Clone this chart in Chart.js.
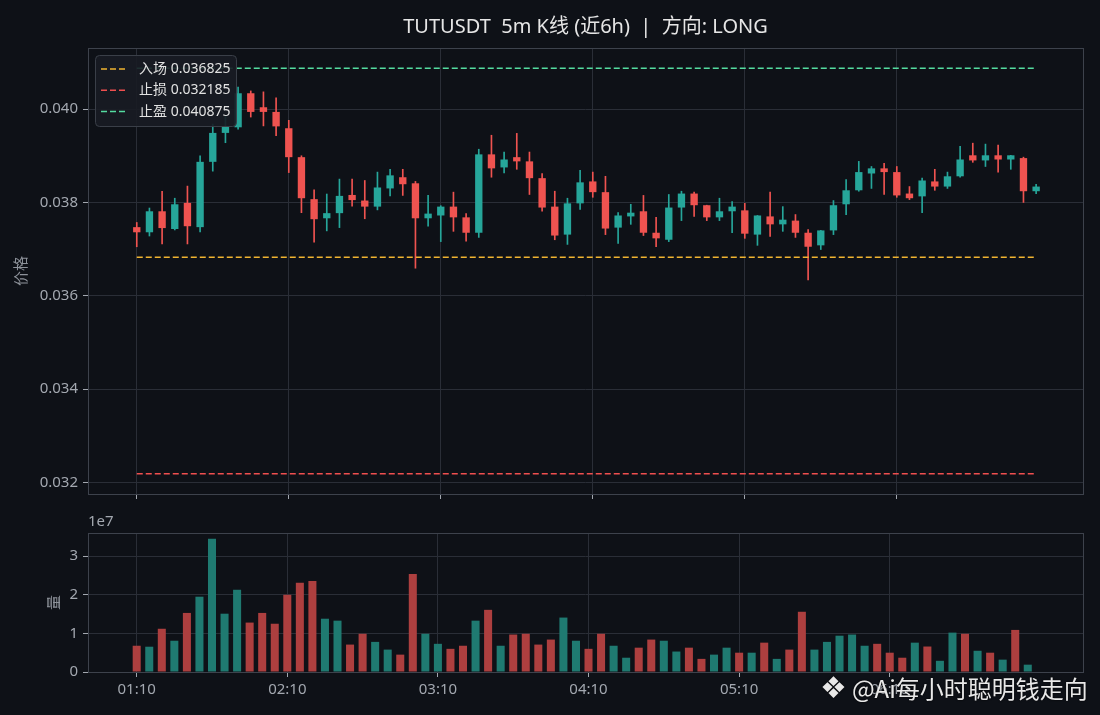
<!DOCTYPE html>
<html><head><meta charset="utf-8">
<script src="https://cdn.jsdelivr.net/npm/chart.js@4.4.1/dist/chart.umd.min.js"></script>
<style>
html,body{margin:0;padding:0;background:#0e1117;width:1100px;height:715px;overflow:hidden;}
#wrapTop{position:absolute;left:0;top:0;width:1100px;height:505px;}
#wrapVol{position:absolute;left:0;top:505px;width:1100px;height:210px;}
#wm{position:absolute;left:820px;top:670px;height:36px;color:#e8e8e8;font-family:'Noto Sans CJK SC','Noto Sans',sans-serif;font-size:24px;line-height:36px;white-space:nowrap;text-shadow:0 0 2px #000;}
#wm .logo{font-family:'DejaVu Sans',sans-serif;font-size:30px;margin-right:5px;vertical-align:top;}
</style></head>
<body>
<div id="wrapTop"><canvas id="cTop"></canvas></div>
<div id="wrapVol"><canvas id="cVol"></canvas></div>
<div id="wm"><span class="logo">❖</span>@Ai每小时聪明钱走向</div>
<script>
const TITLE = 'TUTUSDT  5m K线 (近6h)  |  方向: LONG';
const hourIdx = [0, 12, 24, 36, 48, 60];
const hourLabels = ['01:10', '02:10', '03:10', '04:10', '05:10', '06:10'];
const priceTicks = [0.032, 0.034, 0.036, 0.038, 0.040];
const volTicks = [0, 1e7, 2e7, 3e7];
const ENTRY = 0.036825, STOP = 0.032185, TP = 0.040875;

const open = [
0.03747,0.03736,0.03781,0.03743,0.03799,0.03747,0.03887,0.03949,0.03961,0.04034,
0.04004,0.03994,0.03959,0.03897,0.03807,0.03766,0.03777,0.03816,0.03804,0.03791,
0.03830,0.03854,0.03841,0.03766,0.03772,0.03791,0.03768,0.03735,0.03903,0.03875,
0.03897,0.03888,0.03852,0.03791,0.03731,0.03798,0.03845,0.03822,0.03746,0.03770,
0.03781,0.03735,0.03720,0.03789,0.03819,0.03794,0.03768,0.03781,0.03783,0.03731,
0.03770,0.03753,0.03761,0.03735,0.03708,0.03740,0.03796,0.03826,0.03862,0.03873,
0.03865,0.03819,0.03813,0.03845,0.03834,0.03856,0.03901,0.03890,0.03901,0.03892,
0.03895,0.03824];
const close = [
0.03736,0.03781,0.03745,0.03796,0.03749,0.03887,0.03949,0.03962,0.04034,0.03994,
0.03994,0.03963,0.03897,0.03809,0.03764,0.03777,0.03814,0.03805,0.03791,0.03832,
0.03858,0.03839,0.03766,0.03776,0.03791,0.03768,0.03735,0.03903,0.03873,0.03892,
0.03888,0.03852,0.03789,0.03729,0.03798,0.03843,0.03822,0.03744,0.03772,0.03778,
0.03735,0.03723,0.03789,0.03819,0.03794,0.03768,0.03781,0.03791,0.03733,0.03772,
0.03753,0.03763,0.03735,0.03705,0.03740,0.03794,0.03826,0.03865,0.03873,0.03865,
0.03815,0.03809,0.03847,0.03834,0.03856,0.03892,0.03890,0.03901,0.03892,0.03901,
0.03824,0.03834];
const high = [
0.03757,0.03788,0.03824,0.03809,0.03835,0.03900,0.03968,0.03984,0.04047,0.04039,
0.04037,0.04024,0.03976,0.03900,0.03827,0.03818,0.03850,0.03850,0.03847,0.03865,
0.03871,0.03871,0.03845,0.03815,0.03793,0.03822,0.03776,0.03914,0.03944,0.03908,
0.03948,0.03908,0.03862,0.03824,0.03809,0.03869,0.03865,0.03856,0.03778,0.03796,
0.03815,0.03768,0.03817,0.03824,0.03822,0.03794,0.03809,0.03802,0.03798,0.03772,
0.03822,0.03791,0.03774,0.03742,0.03740,0.03804,0.03849,0.03888,0.03877,0.03884,
0.03877,0.03834,0.03852,0.03871,0.03865,0.03920,0.03927,0.03925,0.03923,0.03901,
0.03897,0.03839];
const low = [
0.03705,0.03728,0.03711,0.03741,0.03711,0.03737,0.03867,0.03928,0.03957,0.03983,
0.03964,0.03943,0.03864,0.03778,0.03715,0.03739,0.03746,0.03792,0.03765,0.03784,
0.03814,0.03815,0.03659,0.03749,0.03716,0.03738,0.03717,0.03725,0.03854,0.03863,
0.03871,0.03817,0.03781,0.03720,0.03710,0.03785,0.03811,0.03731,0.03712,0.03753,
0.03729,0.03705,0.03716,0.03761,0.03770,0.03761,0.03761,0.03735,0.03723,0.03708,
0.03727,0.03738,0.03725,0.03634,0.03699,0.03731,0.03774,0.03824,0.03830,0.03817,
0.03811,0.03806,0.03778,0.03826,0.03830,0.03854,0.03886,0.03877,0.03865,0.03871,
0.03800,0.03819];
const volume = [
6800000,6550000,11200000,8100000,15300000,19500000,34500000,15100000,21300000,12800000,
15300000,12500000,20000000,23100000,23600000,13800000,13300000,7100000,9900000,7800000,
5800000,4500000,25400000,9900000,7300000,6000000,6800000,13300000,16100000,6800000,
9700000,9900000,7100000,8400000,14100000,8100000,6000000,9900000,6800000,3700000,
6300000,8400000,8100000,5300000,6300000,3400000,4500000,6300000,5000000,5000000,
7600000,3400000,5800000,15600000,5800000,7800000,9400000,9700000,6800000,7300000,
5000000,3700000,7600000,6600000,2900000,10200000,9900000,5500000,5000000,3200000,
10900000,1900000];

const UP = '#26a69a', DOWN = '#ef5350';
const UP_V = '#1f7a71', DOWN_V = '#ad3f3f';
const C_ENTRY = '#f0b431', C_STOP = '#ef4f4f', C_TP = '#54dca0';
const GRID = '#2a2e37', SPINE = '#3d424c', TICK = '#a3a8b0', LBL = '#8d929a', TXT = '#e6e6e6';
const FONT = "'Noto Sans','Noto Sans CJK SC',sans-serif";

Chart.defaults.font.family = FONT;
Chart.defaults.color = TICK;
Chart.defaults.animation = false;

const idx = open.map((_, i) => i);
const N = open.length;
const isUp = idx.map(i => close[i] >= open[i]);
const candleCol = isUp.map(u => u ? UP : DOWN);
const volCol = isUp.map(u => u ? UP_V : DOWN_V);

const framePlugin = {
  id: 'frame',
  afterDraw(chart) {
    const {ctx, chartArea: a} = chart;
    ctx.save();
    ctx.strokeStyle = SPINE; ctx.lineWidth = 1;
    ctx.strokeRect(Math.round(a.left) + 0.5, Math.round(a.top) + 0.5, Math.round(a.right - a.left), Math.round(a.bottom - a.top));
    ctx.restore();
  }
};

const titlePlugin = {
  id: 'ttl',
  afterDraw(chart) {
    const {ctx, chartArea: a} = chart;
    ctx.save();
    ctx.fillStyle = TXT; ctx.font = '20px ' + FONT;
    ctx.textAlign = 'center'; ctx.textBaseline = 'middle';
    ctx.fillText(TITLE, (a.left + a.right) / 2, 27);
    ctx.restore();
  }
};

const legendPlugin = {
  id: 'lgd',
  afterDraw(chart) {
    const {ctx, chartArea: a} = chart;
    const items = chart.data.datasets.filter(d => d.type === 'line');
    const x0 = a.left + 7, y0 = a.top + 7, w = 141, h = 71;
    ctx.save();
    ctx.beginPath();
    ctx.roundRect(x0 + 0.5, y0 + 0.5, w, h, 4);
    ctx.fillStyle = 'rgba(24,28,36,0.9)'; ctx.fill();
    ctx.strokeStyle = '#3a3f48'; ctx.lineWidth = 1; ctx.stroke();
    ctx.font = '14px ' + FONT; ctx.textBaseline = 'middle'; ctx.textAlign = 'left';
    items.forEach((d, k) => {
      const y = y0 + 14 + k * 21.3;
      ctx.strokeStyle = d.borderColor; ctx.lineWidth = 1.5; ctx.setLineDash([6, 3]);
      ctx.beginPath(); ctx.moveTo(x0 + 6, y); ctx.lineTo(x0 + 33, y); ctx.stroke();
      ctx.setLineDash([]);
      ctx.fillStyle = '#e2e2e2';
      ctx.fillText(d.label, x0 + 44, y);
    });
    ctx.restore();
  }
};

const volOffsetPlugin = {
  id: 'voff',
  afterDraw(chart) {
    const {ctx, chartArea: a} = chart;
    ctx.save();
    ctx.fillStyle = TICK; ctx.font = '15px ' + FONT;
    ctx.textAlign = 'left'; ctx.textBaseline = 'middle';
    ctx.fillText('1e7', a.left, a.top - 11);
    ctx.restore();
  }
};

function hline(label, val, color) {
  return {type: 'line', label: label, data: [{x: 0, y: val}, {x: N - 1, y: val}],
    borderColor: color, borderWidth: 1.5, borderDash: [6, 3], pointRadius: 0, fill: false};
}

const fitY = s => { s.width = 88; s.paddingTop = 0; s.paddingBottom = 0; };

new Chart(document.getElementById('cTop'), {
  type: 'bar',
  data: {
    datasets: [
      hline('入场 ' + ENTRY, ENTRY, C_ENTRY),
      hline('止损 ' + STOP, STOP, C_STOP),
      hline('止盈 ' + TP, TP, C_TP),
      {label: 'body', data: idx.map(i => ({x: i, y: [open[i], close[i]]})),
        backgroundColor: candleCol, borderWidth: 0, barPercentage: 0.58, categoryPercentage: 1, grouped: false},
      {label: 'wick', data: idx.map(i => ({x: i, y: [low[i], high[i]]})),
        backgroundColor: candleCol, borderWidth: 0, barThickness: 1, grouped: false}
    ]
  },
  options: {
    responsive: true, maintainAspectRatio: false,
    layout: {padding: {left: 0, right: 17, top: 48, bottom: 0}},
    plugins: {legend: {display: false}, tooltip: {enabled: false}, title: {display: false}},
    scales: {
      x: {type: 'linear', min: -3.85, max: 74.7, offset: false,
        grid: {color: GRID, tickColor: TICK, tickLength: 5, offset: false},
        border: {display: false},
        ticks: {display: false},
        afterBuildTicks: s => { s.ticks = hourIdx.map(v => ({value: v})); },
        afterFit: s => { s.height = 11; s.paddingLeft = 0; s.paddingRight = 0; }
      },
      y: {min: 0.03175, max: 0.04131,
        grid: {color: GRID, tickColor: TICK, tickLength: 5},
        border: {display: false},
        ticks: {color: TICK, font: {size: 15}, padding: 5, callback: v => Number(v).toFixed(3)},
        afterBuildTicks: s => { s.ticks = priceTicks.map(v => ({value: v})); },
        title: {display: true, text: '价格', color: LBL, font: {size: 15}, padding: {top: 13, bottom: 0}},
        afterFit: fitY
      }
    }
  },
  plugins: [framePlugin, titlePlugin, legendPlugin]
});

new Chart(document.getElementById('cVol'), {
  type: 'bar',
  data: {
    datasets: [
      {label: '量', data: idx.map(i => ({x: i, y: volume[i]})),
        backgroundColor: volCol, borderWidth: 0, barPercentage: 0.64, categoryPercentage: 1}
    ]
  },
  options: {
    responsive: true, maintainAspectRatio: false,
    layout: {padding: {left: 0, right: 17, top: 28, bottom: 0}},
    plugins: {legend: {display: false}, tooltip: {enabled: false}},
    scales: {
      x: {type: 'linear', min: -3.88, max: 75.4, offset: false,
        grid: {color: GRID, tickColor: TICK, tickLength: 5, offset: false},
        border: {display: false},
        ticks: {color: TICK, font: {size: 15}, padding: 4, autoSkip: false, maxRotation: 0,
          callback: v => hourLabels[hourIdx.indexOf(v)]},
        afterBuildTicks: s => { s.ticks = hourIdx.map(v => ({value: v})); },
        afterFit: s => { s.height = 43; s.paddingLeft = 0; s.paddingRight = 0; }
      },
      y: {min: 0, max: 3.6e7,
        grid: {color: GRID, tickColor: TICK, tickLength: 5},
        border: {display: false},
        ticks: {color: TICK, font: {size: 15}, padding: 5, callback: v => String(Math.round(v / 1e7))},
        afterBuildTicks: s => { s.ticks = volTicks.map(v => ({value: v})); },
        title: {display: true, text: '量', color: LBL, font: {size: 15}, padding: {top: 46, bottom: 0}},
        afterFit: fitY
      }
    }
  },
  plugins: [framePlugin, volOffsetPlugin]
});
</script>
</body></html>
